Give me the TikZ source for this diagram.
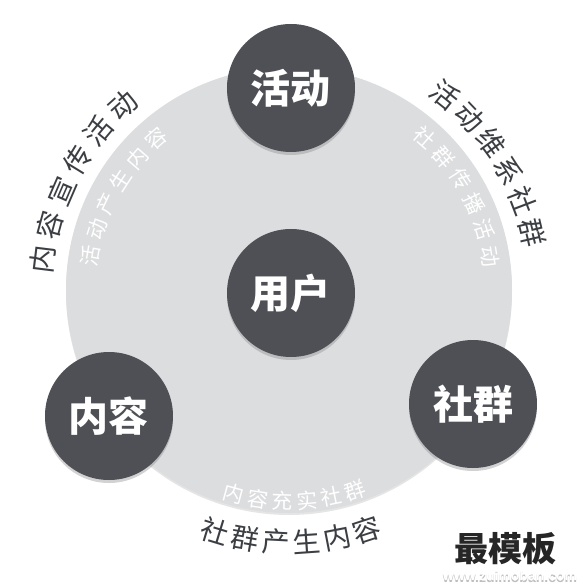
\documentclass[tikz,border=0pt]{standalone}
\usepackage{fontspec}
\newfontfamily\cjk{Noto Sans CJK SC}
\newfontfamily\latf{Liberation Sans}
\usepackage{tikz}
\usetikzlibrary{shadows}
\definecolor{ringc}{HTML}{DCDDDF}
\definecolor{hubc}{HTML}{4E5055}
\definecolor{txtc}{HTML}{3B3E43}
\tikzset{
  hub/.style={circle,fill=hubc,minimum size=128pt,inner sep=0pt,text=white,
    font=\cjk\bfseries\fontsize{40}{40}\selectfont,
    drop shadow={opacity=0.35,shadow xshift=0pt,shadow yshift=-3pt}},
  outch/.style={text=txtc,inner sep=0pt,font=\cjk\fontsize{28}{28}\selectfont},
  inch/.style={text=white,inner sep=0pt,font=\cjk\fontsize{21}{21}\selectfont}
}

\begin{document}
\begin{tikzpicture}[x=1pt,y=1pt]
\useasboundingbox (-289,-296) rectangle (297,290);
\fill[white] (-289,-296) rectangle (297,290);
% ring
\fill[ringc,drop shadow={opacity=0.2,shadow xshift=0pt,shadow yshift=-2pt}] (0,0) circle (223pt);
% hubs
\node[hub] (act) at (2,202) {活动};
\node[hub] (usr) at (2,-3) {用户};
\node[hub] (cnt) at (-180,-126) {内容};
\node[hub] (grp) at (184,-114) {社群};
% left arc
\foreach \ch [count=\i from 0] in {内,容,宣,传,活,动}
  \node[outch,rotate={173-8.2*\i-90}] (lo\i) at ({173-8.2*\i}:248pt) {\ch};
\foreach \ch [count=\i from 0] in {活,动,产,生,内,容}
  \node[inch,rotate={170.3-7.8*\i-90}] (li\i) at ({170.3-7.8*\i}:201pt) {\ch};
% right arc
\foreach \ch [count=\i from 0] in {活,动,维,系,社,群}
  \node[outch,rotate={51.3-7.6*\i-90}] (ro\i) at ({51.3-7.6*\i}:250pt) {\ch};
\foreach \ch [count=\i from 0] in {社,群,传,播,活,动}
  \node[inch,rotate={48.4-7.8*\i-90}] (ri\i) at ({48.4-7.8*\i}:204pt) {\ch};
% bottom arc
\foreach \ch [count=\i from 0] in {社,群,产,生,内,容}
  \node[outch,rotate={-107+7*\i+90}] (bo\i) at ({-107+7*\i}:252pt) {\ch};
\foreach \ch [count=\i from 0] in {内,容,充,实,社,群}
  \node[inch,rotate={-105.2+6.7*\i+90}] (bi\i) at ({-105.2+6.7*\i}:211pt) {\ch};
% mark
\node[text=black!85,font=\cjk\bfseries\fontsize{34}{34}\selectfont] (mark) at (216,-259) {最模板};
\node[text=black!25,font=\latf\bfseries\fontsize{14}{14}\selectfont] (url) at (221,-287) {www.zuimoban.com};
\node[text=white,font=\latf\bfseries\fontsize{14}{14}\selectfont] (urlw) at (221,-285.5) {www.zuimoban.com};
\end{tikzpicture}
\end{document}
